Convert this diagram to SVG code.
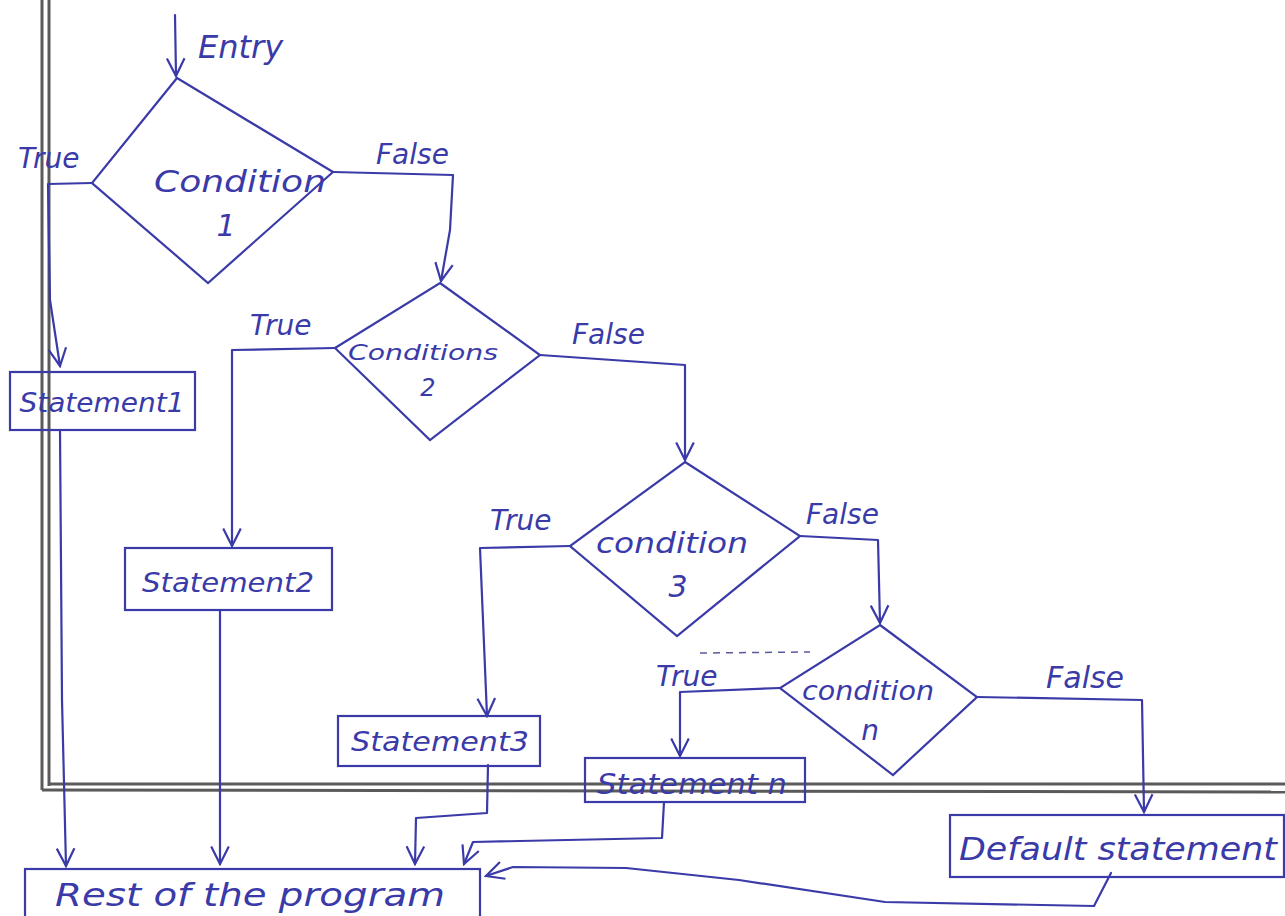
<svg xmlns="http://www.w3.org/2000/svg" width="1285" height="916" viewBox="0 0 1285 916">
<defs>
<marker id="arr" viewBox="0 0 20 20" refX="18" refY="10" markerWidth="22" markerHeight="22" markerUnits="userSpaceOnUse" orient="auto">
<path d="M2,2 L18,10 L2,18" fill="none" stroke="#3a3aa8" stroke-width="2"/>
</marker>
</defs>
<style>
.s{fill:none;stroke:#3a3aa8;stroke-width:2.2;stroke-linejoin:round;stroke-linecap:round}
.b{fill:none;stroke:#3a3aa8;stroke-width:2.2}
.t{font-family:"DejaVu Sans","Liberation Sans",sans-serif;font-style:oblique;fill:#3a3aa8}
.g{stroke:#5a5a5a;stroke-width:3;fill:none}
</style>
<rect width="1285" height="916" fill="#ffffff"/>
<g id="page-lines">
<line class="g" x1="42" y1="0" x2="42" y2="790"/>
<line class="g" x1="49" y1="0" x2="49" y2="786"/>
<line class="g" x1="42" y1="790" x2="1285" y2="792"/>
<line class="g" x1="49" y1="784" x2="1285" y2="784" stroke-width="2"/>
</g>
<g id="connectors">
<path class="s" d="M175,15 L176,76" marker-end="url(#arr)"/>
<path class="s" d="M92,183 L48,184 L50,300 L60,366" marker-end="url(#arr)"/>
<path class="s" d="M333,172 L453,175 L450,230 L441,281" marker-end="url(#arr)"/>
<path class="s" d="M335,348 L232,350 L232,546" marker-end="url(#arr)"/>
<path class="s" d="M540,355 L685,365 L685,460" marker-end="url(#arr)"/>
<path class="s" d="M570,546 L480,548 L487,716" marker-end="url(#arr)"/>
<path class="s" d="M800,536 L878,540 L880,623" marker-end="url(#arr)"/>
<path class="s" d="M780,688 L680,692 L680,756" marker-end="url(#arr)"/>
<path class="s" d="M977,697 L1142,700 L1144,812" marker-end="url(#arr)"/>
<path class="s" d="M60,430 L62,700 L66,866" marker-end="url(#arr)"/>
<path class="s" d="M220,610 L220,864" marker-end="url(#arr)"/>
<path class="s" d="M488,765 L487,813 L416,818 L415,864" marker-end="url(#arr)"/>
<path class="s" d="M664,802 L662,838 L473,842 L464,864" marker-end="url(#arr)"/>
<path class="s" d="M1111,873 L1094,906 L885,902 L739,880 L626,868 L513,867 L486,876" marker-end="url(#arr)"/>
<line x1="700" y1="653" x2="810" y2="652" stroke="#5a5a9a" stroke-width="1.5" stroke-dasharray="7,6"/>
</g>
<g id="labels">
<text class="t" x="198" y="58" font-size="32">Entry</text>
<text class="t" x="18" y="168" font-size="28">True</text>
<text class="t" x="376" y="164" font-size="28">False</text>
<text class="t" x="250" y="335" font-size="28">True</text>
<text class="t" x="572" y="344" font-size="28">False</text>
<text class="t" x="490" y="530" font-size="28">True</text>
<text class="t" x="806" y="524" font-size="28">False</text>
<text class="t" x="656" y="686" font-size="28">True</text>
<text class="t" x="1046" y="688" font-size="30">False</text>
</g>
<g id="condition1">
<path class="b" d="M177,78 L333,172 L208,283 L92,183 Z"/>
<text class="t" x="240" y="192" font-size="30" text-anchor="middle" textLength="172" lengthAdjust="spacingAndGlyphs">Condition</text>
<text class="t" x="226" y="236" font-size="30" text-anchor="middle">1</text>
</g>
<g id="condition2">
<path class="b" d="M440,283 L540,355 L430,440 L335,348 Z"/>
<text class="t" x="423" y="360" font-size="22" text-anchor="middle" textLength="150" lengthAdjust="spacingAndGlyphs">Conditions</text>
<text class="t" x="428" y="396" font-size="24" text-anchor="middle">2</text>
</g>
<g id="condition3">
<path class="b" d="M685,462 L800,536 L677,636 L570,546 Z"/>
<text class="t" x="672" y="553" font-size="28" text-anchor="middle" textLength="152" lengthAdjust="spacingAndGlyphs">condition</text>
<text class="t" x="678" y="597" font-size="30" text-anchor="middle">3</text>
</g>
<g id="conditionN">
<path class="b" d="M880,625 L977,697 L893,775 L780,688 Z"/>
<text class="t" x="868" y="700" font-size="26" text-anchor="middle" textLength="132" lengthAdjust="spacingAndGlyphs">condition</text>
<text class="t" x="870" y="740" font-size="28" text-anchor="middle">n</text>
</g>
<g id="statement1">
<rect class="b" x="10" y="372" width="185" height="58"/>
<text class="t" x="102" y="412" font-size="26" text-anchor="middle" textLength="165" lengthAdjust="spacingAndGlyphs">Statement1</text>
</g>
<g id="statement2">
<rect class="b" x="125" y="548" width="207" height="62"/>
<text class="t" x="228" y="592" font-size="27" text-anchor="middle" textLength="172" lengthAdjust="spacingAndGlyphs">Statement2</text>
</g>
<g id="statement3">
<rect class="b" x="338" y="716" width="202" height="50"/>
<text class="t" x="440" y="751" font-size="27" text-anchor="middle" textLength="178" lengthAdjust="spacingAndGlyphs">Statement3</text>
</g>
<g id="statementN">
<rect class="b" x="585" y="758" width="220" height="44"/>
<text class="t" x="692" y="794" font-size="28" text-anchor="middle" textLength="190" lengthAdjust="spacingAndGlyphs">Statement n</text>
</g>
<g id="default">
<rect class="b" x="950" y="815" width="334" height="62"/>
<text class="t" x="1118" y="860" font-size="32" text-anchor="middle" textLength="318" lengthAdjust="spacingAndGlyphs">Default statement</text>
</g>
<g id="rest">
<rect class="b" x="25" y="869" width="455" height="60"/>
<text class="t" x="250" y="906" font-size="32" text-anchor="middle" textLength="390" lengthAdjust="spacingAndGlyphs">Rest of the program</text>
</g>
</svg>
